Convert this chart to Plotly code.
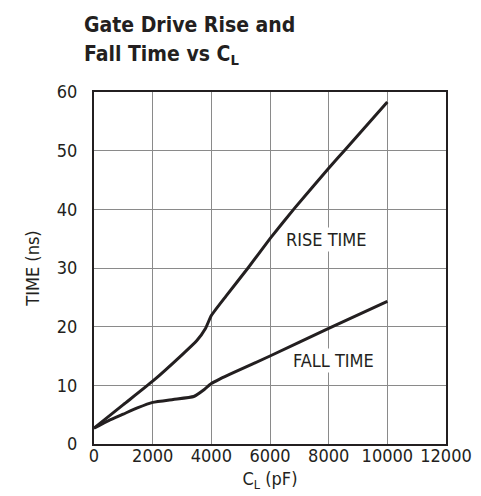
import plotly.graph_objects as go

rise_x = [0, 1000, 2000, 3000, 3500, 3800, 4000, 4500, 5250, 6000, 6840, 8000, 8570, 10000]
rise_y = [2.7, 6.7, 10.7, 15.2, 17.6, 19.7, 21.9, 25.2, 30.0, 35.0, 40.2, 47.0, 50.2, 58.3]

fall_x = [0, 500, 1000, 1500, 2000, 2700, 3400, 3760, 4000, 4300, 4770, 6000, 8000, 10000]
fall_y = [2.7, 4.0, 5.1, 6.2, 7.1, 7.6, 8.1, 9.3, 10.3, 11.1, 12.2, 15.0, 19.7, 24.3]

x_ticks = [0, 2000, 4000, 6000, 8000, 10000, 12000]
y_ticks = [0, 10, 20, 30, 40, 50, 60]

FONT = "DejaVu Sans Condensed, Liberation Sans Narrow, Arial Narrow, sans-serif"
INK = "#231f20"

fig = go.Figure()
for xs, ys in ((rise_x, rise_y), (fall_x, fall_y)):
    fig.add_trace(go.Scatter(x=xs, y=ys, mode="lines",
                             line=dict(color=INK, width=3, shape="spline", smoothing=0.4),
                             showlegend=False, hoverinfo="skip"))

W, H = 481, 496
L, R, T, B = 86, 43, 84, 60

fig.update_layout(
    width=W, height=H,
    margin=dict(l=L, r=R, t=T, b=B),
    paper_bgcolor="white", plot_bgcolor="white",
    font=dict(family=FONT, size=18, color=INK),
    xaxis=dict(range=[0, 12000], tickvals=x_ticks, ticktext=[str(v) for v in x_ticks],
               showgrid=True, gridcolor="#8a8a8a", gridwidth=1,
               showline=True, linecolor=INK, linewidth=2, mirror=True,
               zeroline=False, ticks="", ticklen=0, ticklabelstandoff=-6,
               title=dict(text="C<sub>L</sub> (pF)", font=dict(size=18), standoff=8)),
    yaxis=dict(range=[0, 60], tickvals=y_ticks, ticktext=[str(v) for v in y_ticks],
               showgrid=True, gridcolor="#8a8a8a", gridwidth=1,
               showline=True, linecolor=INK, linewidth=2, mirror=True,
               zeroline=False, ticks="", ticklen=0, ticklabelstandoff=11,
               title=dict(text="TIME (ns)", font=dict(size=18), standoff=12)),
)

fig.add_annotation(x=7920, y=34.8, text="RISE TIME", showarrow=False,
                   font=dict(size=18, color=INK), bgcolor="white", borderpad=1)
fig.add_annotation(x=8150, y=14.2, text="FALL TIME", showarrow=False,
                   font=dict(size=18, color=INK), bgcolor="white", borderpad=1)

plot_h = H - T - B
plot_w = W - L - R
fig.add_annotation(xref="paper", yref="paper", x=-12 / plot_w, y=(H - B - 17) / plot_h,
                   xanchor="left", yanchor="middle", showarrow=False, align="left",
                   text="<b>Gate Drive Rise and</b>", font=dict(size=21, color=INK))
fig.add_annotation(xref="paper", yref="paper", x=-12 / plot_w, y=(H - B - 47) / plot_h,
                   xanchor="left", yanchor="middle", showarrow=False, align="left",
                   text="<b>Fall Time vs C<sub>L</sub></b>", font=dict(size=21, color=INK))

fig.write_html("out.html")
